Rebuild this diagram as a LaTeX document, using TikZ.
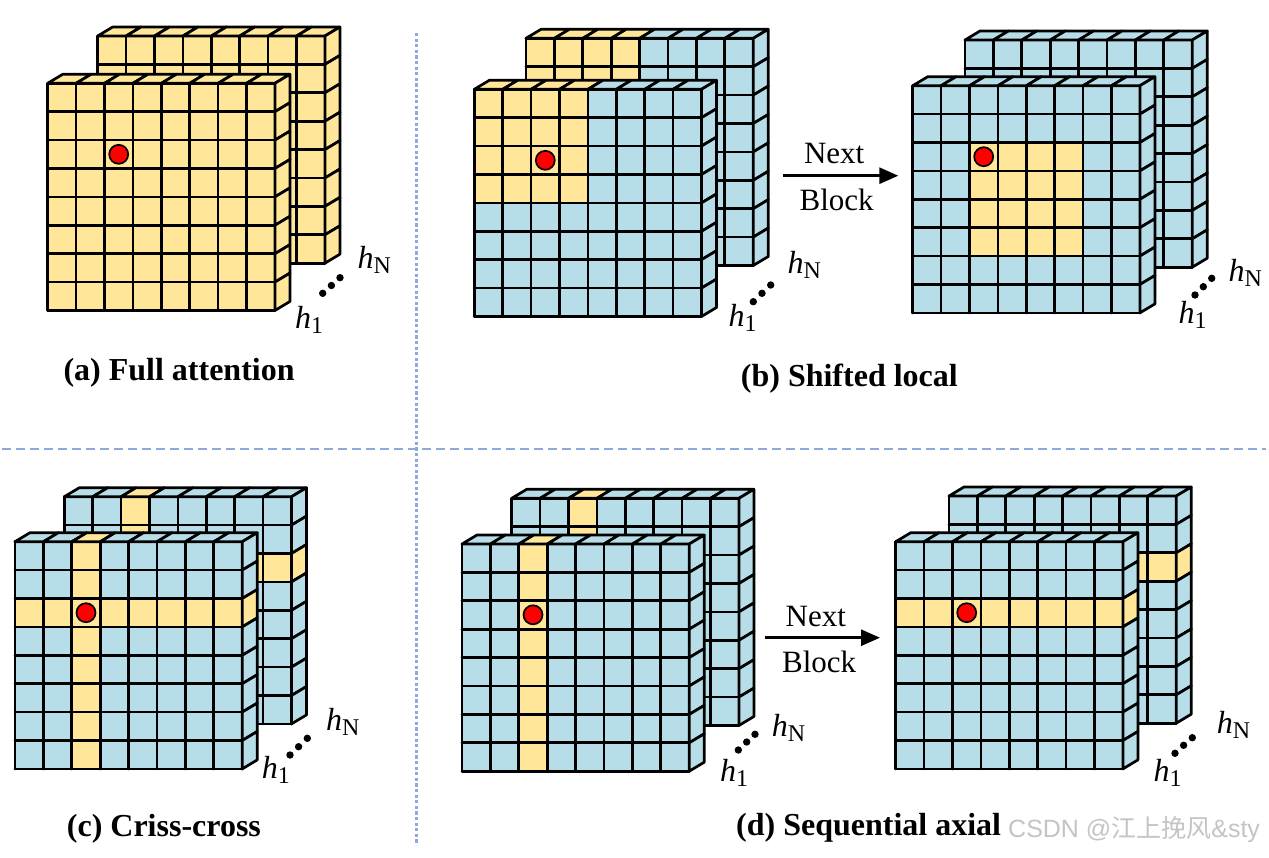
\documentclass[tikz,border=0pt]{standalone}
\usepackage{fontspec}
\setmainfont{Liberation Serif}
\newfontfamily\wmfont{Liberation Sans}
\newfontfamily\cjkfont{Noto Sans CJK SC}
\usetikzlibrary{arrows.meta}
\definecolor{cellY}{HTML}{FFE699}
\definecolor{cellB}{HTML}{B7DEE8}
\definecolor{sepblue}{HTML}{8EAADB}
\definecolor{wmgray}{HTML}{C4C4C4}
\def\cs{28.4}
\def\dx{15}
\def\dy{-9}
\newcommand\drawlayer[3]{%
  \foreach \i in {0,...,7}{%
    \foreach \j in {0,...,7}{%
      \pgfmathtruncatemacro\isY{#3}%
      \ifnum\isY=1 \def\fc{cellY}\else\def\fc{cellB}\fi
      \fill[fill=\fc] ({#1+\i*\cs},{#2+\j*\cs}) rectangle ++(\cs,\cs);
    }}%
  \foreach \k in {0,...,8}{%
    \draw[cellst] ({#1+\k*\cs},{#2}) -- ++(0,{8*\cs});
    \draw[cellst] ({#1},{#2+\k*\cs}) -- ++({8*\cs},0);
  }%
  \foreach \i in {0,...,7}{%
    \def\j{0}%
    \pgfmathtruncatemacro\isY{#3}%
    \ifnum\isY=1 \def\fc{cellY}\else\def\fc{cellB}\fi
    \filldraw[cellst,fill=\fc] ({#1+\i*\cs},{#2}) -- ++(\dx,\dy) -- ++(\cs,0) -- ++(-\dx,-\dy) -- cycle;
  }%
  \foreach \j in {0,...,7}{%
    \def\i{7}%
    \pgfmathtruncatemacro\isY{#3}%
    \ifnum\isY=1 \def\fc{cellY}\else\def\fc{cellB}\fi
    \filldraw[cellst,fill=\fc] ({#1+8*\cs},{#2+\j*\cs}) -- ++(\dx,\dy) -- ++(0,\cs) -- ++(-\dx,-\dy) -- cycle;
  }%
}
\newcommand\hsub[1]{{\itshape h}\raisebox{-5pt}{\fontsize{24}{24}\selectfont #1}}
\begin{document}
\begin{tikzpicture}[x=1pt,y=-1pt,
  cellst/.style={draw=black,line width=2.7pt,line join=round,line cap=round},
  reddot/.style={circle,fill=red,draw=black,line width=1.7pt,minimum size=19pt,inner sep=0pt},
  smalldot/.style={circle,fill=black,minimum size=7.4pt,inner sep=0pt},
  hlab/.style={anchor=base west,inner sep=0pt,font=\fontsize{32}{32}\selectfont},
  titlest/.style={anchor=base west,inner sep=0pt,font=\fontsize{32}{32}\selectfont\bfseries},
  nbst/.style={anchor=base,inner sep=0pt,font=\fontsize{31}{31}\selectfont},
  arr/.style={line width=2.8pt,-{Triangle[length=19pt,width=16pt]}},
  sepv/.style={sepblue,line width=3pt,dash pattern=on 3.2pt off 2.4pt},
  seph/.style={sepblue,line width=2.6pt,dash pattern=on 9pt off 5pt}]
\fill[white] (0,0) rectangle (1269,857);
\useasboundingbox (0,0) rectangle (1269,857);

% separators
\coordinate (vtop) at (416,33);
\coordinate (vbot) at (416,845);
\coordinate (hl) at (2,449);
\coordinate (hr) at (1266,449);
\draw[seph] (hl) -- (hr);
\draw[sepv] (vtop) -- (vbot);

% (a) full attention
\drawlayer{97.7}{36}{1}
\drawlayer{47.7}{83.3}{1}
\node[reddot] (a-dot) at (118.7,154.3) {};
\node[hlab] (a-hN) at (357.3,268.3) {\hsub{N}};
\node[hlab] (a-h1) at (295,328) {\hsub{1}};
\node[smalldot] (a-d1) at (322.7,293.3) {};
\node[smalldot] (a-d2) at (331.4,285.5) {};
\node[smalldot] (a-d3) at (340,277.7) {};
\node[titlest] (a-title) at (63.3,380) {(a) Full attention};

% (b) shifted local, left
\drawlayer{526}{38.3}{and(\i<4,\j<4)}
\drawlayer{474.3}{89.3}{and(\i<4,\j<4)}
\node[reddot] (b1-dot) at (545.3,160.3) {};
\node[hlab] (b1-hN) at (787.3,273.3) {\hsub{N}};
\node[hlab] (b1-h1) at (728.3,326.7) {\hsub{1}};
\node[smalldot] (b1-d1) at (753.3,301.7) {};
\node[smalldot] (b1-d2) at (762,293.3) {};
\node[smalldot] (b1-d3) at (770.7,285) {};
% arrow
\node[nbst] (b-next) at (834.2,163.3) {Next};
\node[nbst] (b-block) at (836.7,210) {Block};
\coordinate (b-as) at (782.7,175.7);
\coordinate (b-ae) at (898.3,175.7);
\draw[arr] (b-as) -- (b-ae);
% (b) right
\drawlayer{965}{40}{and(and(\i>1,\i<6),and(\j>1,\j<6))}
\drawlayer{912.7}{85.7}{and(and(\i>1,\i<6),and(\j>1,\j<6))}
\node[reddot] (b2-dot) at (983.7,156.7) {};
\node[hlab] (b2-hN) at (1228.3,281.7) {\hsub{N}};
\node[hlab] (b2-h1) at (1178.3,323.3) {\hsub{1}};
\node[smalldot] (b2-d1) at (1195,295) {};
\node[smalldot] (b2-d2) at (1203.3,286.7) {};
\node[smalldot] (b2-d3) at (1211.7,278.3) {};
\node[titlest] (b-title) at (740.7,386.7) {(b) Shifted local};

% (c) criss-cross
\drawlayer{64.3}{496.7}{or(\i==2,\j==2)}
\drawlayer{15}{541.7}{or(\i==2,\j==2)}
\node[reddot] (c-dot) at (86,612.7) {};
\node[hlab] (c-hN) at (326,730) {\hsub{N}};
\node[hlab] (c-h1) at (261.7,778.3) {\hsub{1}};
\node[smalldot] (c-d1) at (290,755) {};
\node[smalldot] (c-d2) at (298.6,746.7) {};
\node[smalldot] (c-d3) at (307.3,738.3) {};
\node[titlest] (c-title) at (66.7,836) {(c) Criss-cross};

% (d) sequential axial, left
\drawlayer{511.7}{498.3}{\i==2}
\drawlayer{462}{544}{\i==2}
\node[reddot] (d1-dot) at (533,614.8) {};
\node[hlab] (d1-hN) at (771.7,736.7) {\hsub{N}};
\node[hlab] (d1-h1) at (720,781.7) {\hsub{1}};
\node[smalldot] (d1-d1) at (738.3,750) {};
\node[smalldot] (d1-d2) at (746.7,742) {};
\node[smalldot] (d1-d3) at (755,734.3) {};
% arrow
\node[nbst] (d-next) at (815.8,626.7) {Next};
\node[nbst] (d-block) at (819.2,672.7) {Block};
\coordinate (d-as) at (765,637.7);
\coordinate (d-ae) at (880,637.7);
\draw[arr] (d-as) -- (d-ae);
% (d) right
\drawlayer{949}{496}{\j==2}
\drawlayer{895.7}{541.7}{\j==2}
\node[reddot] (d2-dot) at (966.7,612.7) {};
\node[hlab] (d2-hN) at (1216.7,733.3) {\hsub{N}};
\node[hlab] (d2-h1) at (1153.3,781.7) {\hsub{1}};
\node[smalldot] (d2-d1) at (1175,753.3) {};
\node[smalldot] (d2-d2) at (1183.6,745.3) {};
\node[smalldot] (d2-d3) at (1192.3,737.7) {};
\node[titlest] (d-title) at (736,835.5) {(d) Sequential axial};

% watermark
\node[anchor=base west,inner sep=0pt,text=wmgray,font=\fontsize{25}{25}\selectfont] (wm) at (1008,837) {\wmfont CSDN @\cjkfont 江上挽风\wmfont \&sty};
\end{tikzpicture}
\end{document}
